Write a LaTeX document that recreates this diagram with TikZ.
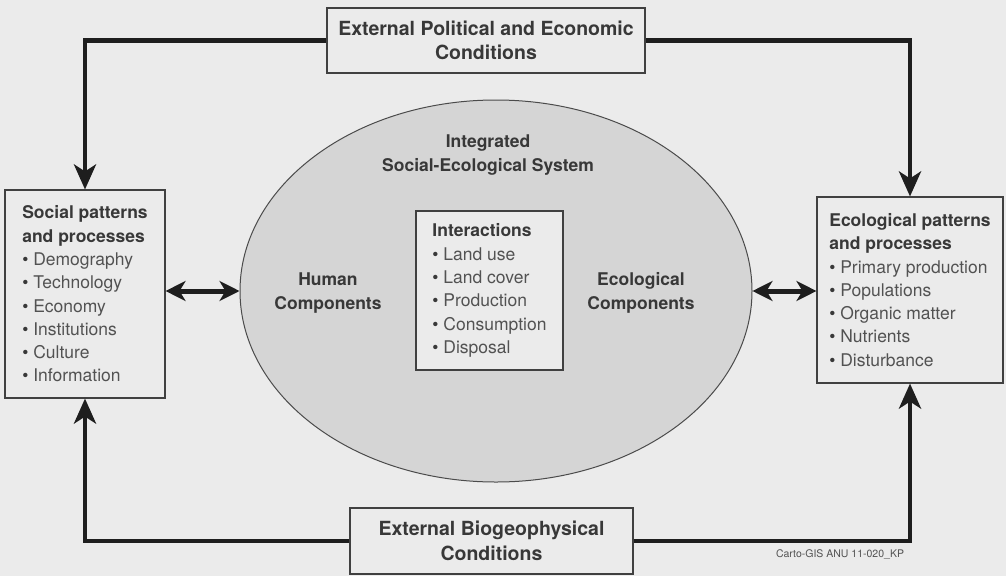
\documentclass[tikz,border=0pt]{standalone}
\usepackage{fontspec}
\setmainfont{TeX Gyre Heros}
\usetikzlibrary{arrows.meta,shapes.geometric}
\definecolor{paper}{HTML}{EBEBEB}
\definecolor{disc}{HTML}{D5D5D5}
\definecolor{ink}{HTML}{1E1E1E}
\definecolor{headtxt}{HTML}{383838}
\definecolor{itemtxt}{HTML}{525252}
\newcommand\panelhead[1]{{\bfseries\color{headtxt}#1}}
\newcommand\pt{{\color{headtxt}•}\ }

\begin{document}
\begin{tikzpicture}[x=1pt,y=-1pt,
  panel/.style={draw=ink!85, line width=1.1pt, fill=paper, inner sep=0pt,
    align=left, font=\fontsize{17.5}{23.3}\selectfont, text=itemtxt},
  extbox/.style={draw=ink!85, line width=1.1pt, fill=paper, inner sep=0pt,
    align=center, font=\bfseries\fontsize{19.5}{24.5}\selectfont, text=headtxt},
  innertxt/.style={align=center, font=\bfseries\fontsize{17.5}{23.3}\selectfont, text=headtxt},
  flow/.style={draw=ink, line width=4.5pt, -{Stealth[length=25pt,width=22pt,inset=7pt]}},
  link/.style={draw=ink, line width=5pt,
    {Stealth[length=20pt,width=20pt,inset=6pt]}-{Stealth[length=20pt,width=20pt,inset=6pt]}}
]
% page
\fill[paper] (0,0) rectangle (1006,576);
\useasboundingbox (0,0) rectangle (1006,576);

% integrated system
\node[ellipse, draw=ink!80, line width=1pt, fill=disc, minimum width=512,
  minimum height=382, inner sep=0pt] (sys) at (496,291) {};
\node[innertxt] (systitle) at (488,155) {Integrated\\Social-Ecological System};
\node[innertxt] (human) at (328,293) {Human\\Components};
\node[innertxt] (ecocomp) at (641,293) {Ecological\\Components};
\node[panel, minimum width=147, minimum height=159] (inter) at (489.5,290.5)
  {\panelhead{Interactions}\\\pt Land use\\\pt Land cover\\\pt Production\\\pt Consumption\\\pt Disposal};

% side panels
\node[panel, minimum width=160, minimum height=208] (social) at (85,294)
  {\panelhead{Social patterns}\\\panelhead{and processes}\\\pt Demography\\\pt Technology\\\pt Economy\\\pt Institutions\\\pt Culture\\\pt Information};
\node[panel, minimum width=186, minimum height=186] (eco) at (910,290)
  {\panelhead{Ecological patterns}\\\panelhead{and processes}\\\pt Primary production\\\pt Populations\\\pt Organic matter\\\pt Nutrients\\\pt Disturbance};

% external conditions
\node[extbox, minimum width=318, minimum height=65] (polit) at (486,40.5)
  {External Political and Economic\\Conditions};
\node[extbox, minimum width=283, minimum height=66] (bio) at (491.5,541)
  {External Biogeophysical\\Conditions};

% connectors
\draw[flow] (polit.west) -| (social.north);
\draw[flow] (polit.east) -| (eco.north);
\draw[flow] (bio.west) -| (social.south);
\draw[flow] (bio.east) -| (eco.south);
\draw[link] (sys.west -| social.east) -- (sys.west);
\draw[link] (sys.east) -- (sys.east -| eco.west);

% credit
\node[font=\fontsize{10.5}{12}\selectfont, text=itemtxt] (credit) at (840,554)
  {Carto-GIS ANU 11-020\_KP};
\end{tikzpicture}
\end{document}
